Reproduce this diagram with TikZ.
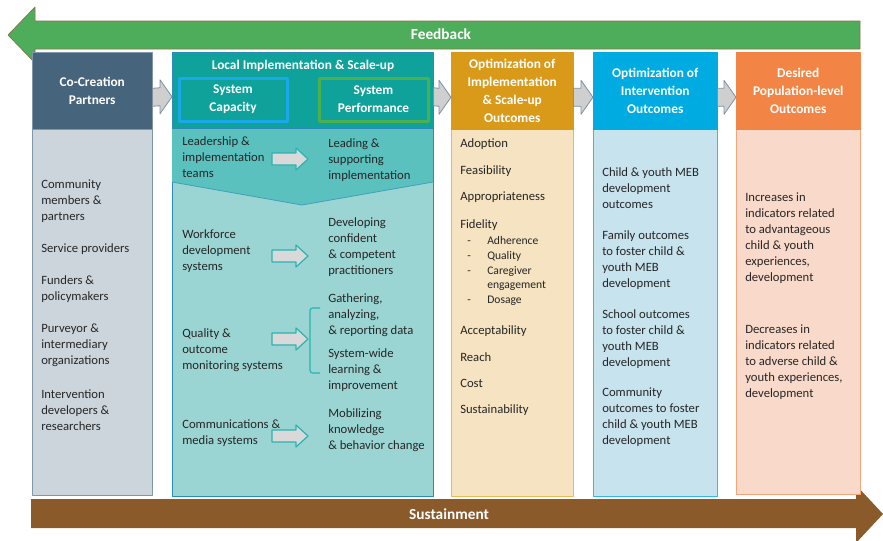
\documentclass[tikz,border=0pt]{standalone}
\usepackage{fontspec}
\setmainfont{Carlito}
\usetikzlibrary{calc}

\definecolor{fbgreen}{HTML}{4EAD5B}
\definecolor{fbedge}{HTML}{8A7048}
\definecolor{susbrown}{HTML}{8B5A2B}
\definecolor{cohead}{HTML}{46647B}
\definecolor{cobody}{HTML}{CDD5DC}
\definecolor{coedge}{HTML}{7F97A8}
\definecolor{lihead}{HTML}{0EA29B}
\definecolor{liband}{HTML}{5BC1BE}
\definecolor{libody}{HTML}{9AD5D4}
\definecolor{liedge}{HTML}{2B8CB8}
\definecolor{capedge}{HTML}{1BA8E6}
\definecolor{perfedge}{HTML}{4CAF50}
\definecolor{imhead}{HTML}{D99A19}
\definecolor{imbody}{HTML}{F5E3C1}
\definecolor{imedge}{HTML}{EDB955}
\definecolor{inhead}{HTML}{00ABE1}
\definecolor{inbody}{HTML}{C7E3EE}
\definecolor{inedge}{HTML}{33B8EA}
\definecolor{pohead}{HTML}{F28545}
\definecolor{pobody}{HTML}{F9D9CA}
\definecolor{poedge}{HTML}{F5A57A}
\definecolor{arrgray}{HTML}{CFCFCF}
\definecolor{arredge}{HTML}{7D90A0}
\definecolor{inarrow}{HTML}{D9D9D9}
\definecolor{inarredge}{HTML}{2AB3B3}
\definecolor{txtgray}{HTML}{262626}

% block arrow: style, tail, tip, y shift, half body, half head, head length
\newcommand{\blockarrow}[7]{%
  \draw[#1] ($(#2)+(0,#4-#5)$) -- ($(#3)+(-#7,#4-#5)$) -- ($(#3)+(-#7,#4-#6)$)
    -- ($(#3)+(0,#4)$) -- ($(#3)+(-#7,#4+#6)$) -- ($(#3)+(-#7,#4+#5)$)
    -- ($(#2)+(0,#4+#5)$) -- cycle;}
% left aligned lines, baseline on the first line
\newcommand{\txtlines}[1]{\begin{tabular}[t]{@{}l@{}}#1\end{tabular}}

\begin{document}
\begin{tikzpicture}[x=0.75pt, y=-0.75pt, line join=round,
	txt/.style={anchor=base west, inner sep=0pt, text=txtgray, font=\fontsize{9.5}{12}\selectfont},
	subtxt/.style={txt, font=\fontsize{8.7}{10.5}\selectfont},
	hd/.style={align=center, text=white, inner sep=0pt, font=\fontsize{10}{13.5}\selectfont\bfseries},
	hdbox/.style={hd, draw, anchor=north west},
	band/.style={text=white, font=\fontsize{11.5}{14}\selectfont\bfseries},
	colarrow/.style={fill=arrgray, draw=arredge, line width=0.6pt},
	innerarrow/.style={fill=inarrow, draw=inarredge, line width=0.9pt}]
	\useasboundingbox (0,0) rectangle (883,540);
	% feedback and sustainment bands
	\draw[fill=fbgreen, draw=fbedge, line width=0.5pt] (8,35) -- (35,7) -- (35,21) -- (860,21) -- (860,49) -- (35,49) -- (35,63) -- cycle;
	\node[band] (fb) at (441,34) {Feedback};
	\fill[susbrown] (31,499) -- (856,499) -- (856,485) -- (883,514) -- (856,543) -- (856,528) -- (31,528) -- cycle;
	\node[band] (sus) at (449,514) {Sustainment};
	% column bodies
	\draw[fill=cobody, draw=coedge] (32,129) rectangle (152,495);
	\draw[fill=libody, draw=liedge] (172,128) rectangle (433,496);
	\draw[fill=liband, draw=none] (172,128) -- (433,128) -- (433,182) -- (302,205) -- (172,182) -- cycle;
	\draw[liedge!60!liband, line width=0.6pt] (172,182) -- (302,205) -- (433,182);
	\draw[liedge] (433,128) -- (433,496);
	\draw[fill=imbody, draw=imedge] (451,129) rectangle (573,496);
	\draw[fill=inbody, draw=inedge] (593,129) rectangle (717,496);
	\draw[fill=pobody, draw=poedge] (736,129) rectangle (860,494);
	% column headers
	\node[hdbox, fill=cohead, draw=coedge, minimum width=90pt, minimum height=57.75pt] (cocr) at (32,52) {Co-Creation\\Partners};
	\node[hdbox, fill=lihead, draw=liedge, minimum width=195.75pt, minimum height=57pt] (lihd) at (172,52) {};
	\node[hd] (loc) at (303,66) {Local Implementation \& Scale-up};
	\draw[draw=capedge, line width=2.25pt] (179,78) rectangle (287,121) node[midway, hd] (cap) {System\\Capacity};
	\draw[draw=perfedge, line width=2.25pt] (319,78) rectangle (428,121) node[midway, hd] (perf) {System\\Performance};
	\node[hdbox, fill=imhead, draw=imhead, minimum width=91.5pt, minimum height=57.75pt] (imhd) at (451,52) {Optimization of\\Implementation\\\& Scale-up\\Outcomes};
	\node[hdbox, fill=inhead, draw=inhead, minimum width=93pt, minimum height=57.75pt] (inhd) at (593,52) {Optimization of\\Intervention\\Outcomes};
	\node[hdbox, fill=pohead, draw=pohead, minimum width=93pt, minimum height=57.75pt] (pohd) at (736,52) {Desired\\Population-level\\Outcomes};
	% arrows between columns
	\blockarrow{colarrow}{cocr.east}{lihd.west}{6.5}{9}{17}{12}
	\blockarrow{colarrow}{lihd.east}{imhd.west}{6.5}{9}{17}{12}
	\blockarrow{colarrow}{imhd.east}{inhd.west}{6.5}{9}{17}{12}
	\blockarrow{colarrow}{inhd.east}{pohd.west}{6.5}{9}{17}{12}
	% co-creation partners
	\foreach \y/\t [count=\i] in {188/{Community\\members \&\\partners}, 252/{Service providers}, 284/{Funders \&\\policymakers}, 332/{Purveyor \&\\intermediary\\organizations}, 398/{Intervention\\developers \&\\researchers}}
		\node[txt] (co\i) at (41,\y) {\txtlines{\t}};
	% system capacity -> system performance
	\node[txt] (lead) at (182,145) {\txtlines{Leadership \&\\implementation\\teams}};
	\node[txt] (work) at (182,238) {\txtlines{Workforce\\development\\systems}};
	\node[txt] (qual) at (182,337) {\txtlines{Quality \&\\outcome\\monitoring systems}};
	\node[txt] (comm) at (182,428) {\txtlines{Communications \&\\media systems}};
	\node[txt] (leadout) at (328,147) {\txtlines{Leading \&\\supporting\\implementation}};
	\node[txt] (workout) at (328,226) {\txtlines{Developing\\confident\\\& competent\\practitioners}};
	\node[txt] (qualout) at (328,302) {\txtlines{Gathering,\\analyzing,\\\& reporting data}};
	\node[txt] (learn) at (328,357) {\txtlines{System-wide\\learning \&\\improvement}};
	\node[txt] (commout) at (328,417) {\txtlines{Mobilizing\\knowledge\\\& behavior change}};
	\foreach \n/\y in {lead/159, work/256, qual/339, comm/436} {
		\coordinate (\n A) at (272,\y);
		\coordinate (\n B) at (308,\y);
		\blockarrow{innerarrow}{\n A}{\n B}{0}{6}{11}{12}
	}
	\draw[inarredge, line width=0.9pt, rounded corners=2pt] (320,308) -- (310,308) -- (310,373) -- (320,373);
	% implementation outcomes
	\foreach \y/\t [count=\i] in {147/Adoption, 174/Feasibility, 200/Appropriateness, 228/Fidelity, 334/Acceptability, 361/Reach, 387/Cost, 413/Sustainability}
		\node[txt] (imo\i) at (460,\y) {\t};
	\foreach \y/\t [count=\i] in {244.5/Adherence, 259.5/Quality, 274.5/{Caregiver\\engagement}, 303.5/Dosage} {
		\node[subtxt] (fidd\i) at (467,\y) {-};
		\node[subtxt] (fid\i) at (487,\y) {\txtlines{\t}};
	}
	% intervention outcomes
	\foreach \y/\t [count=\i] in {176/{Child \& youth MEB\\development\\outcomes}, 239/{Family outcomes\\to foster child \&\\youth MEB\\development}, 318/{School outcomes\\to foster child \&\\youth MEB\\development}, 396/{Community\\outcomes to foster\\child \& youth MEB\\development}}
		\node[txt] (ino\i) at (602,\y) {\txtlines{\t}};
	% population-level outcomes
	\node[txt] (popinc) at (745,201) {\txtlines{Increases in\\indicators related\\to advantageous\\child \& youth\\experiences,\\development}};
	\node[txt] (popdec) at (745,333) {\txtlines{Decreases in\\indicators related\\to adverse child \&\\youth experiences,\\development}};
\end{tikzpicture}
\end{document}
